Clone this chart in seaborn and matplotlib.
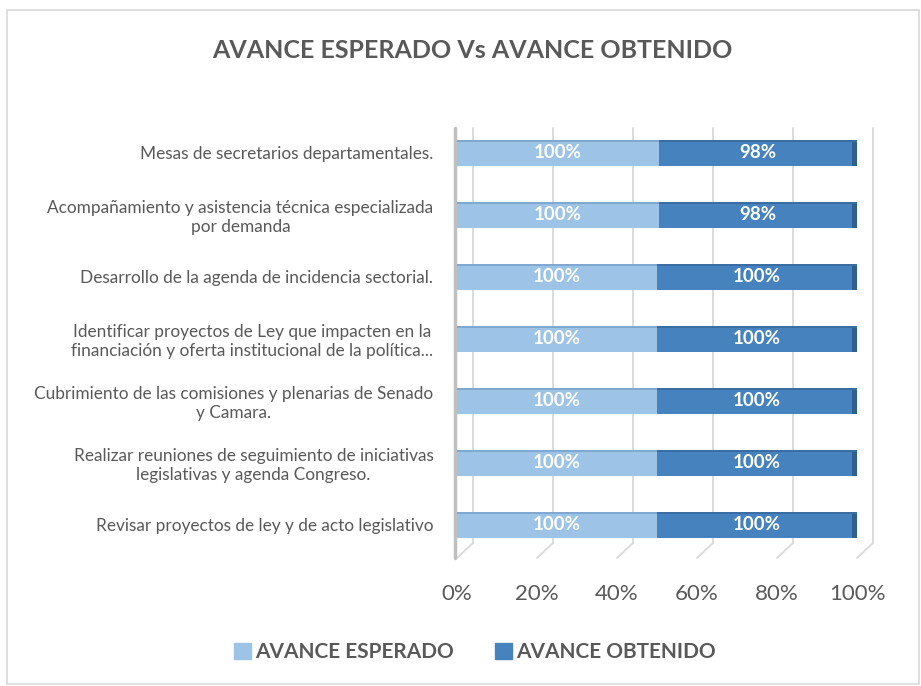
import numpy as np
import pandas as pd
import matplotlib.pyplot as plt
import matplotlib.transforms as mtransforms
from matplotlib.patches import Rectangle, Patch
from matplotlib.lines import Line2D
import seaborn as sns

sns.set_theme(style="white")
plt.rcParams['font.family'] = ['Lato', 'DejaVu Sans']

tasks = [
    "Mesas de secretarios departamentales.",
    "Acompañamiento y asistencia técnica especializada\npor demanda",
    "Desarrollo de la agenda de incidencia sectorial.",
    "Identificar proyectos de Ley que impacten en la\nfinanciación y oferta institucional de la política...",
    "Cubrimiento de las comisiones y plenarias de Senado\ny Camara.",
    "Realizar reuniones de seguimiento de iniciativas\nlegislativas y agenda Congreso.",
    "Revisar proyectos de ley y de acto legislativo",
]
esperado = [100, 100, 100, 100, 100, 100, 100]
obtenido = [98, 98, 100, 100, 100, 100, 100]

df = pd.DataFrame({"tarea": tasks, "esperado": esperado, "obtenido": obtenido})
tot = df["esperado"] + df["obtenido"]
df["sh_esp"] = df["esperado"] / tot
df["sh_all"] = (df["esperado"] + df["obtenido"]) / tot

light = "#9DC3E6"
dark = "#4682BE"
cap = "#2F5F8F"
grey = "#595959"
gridc = "#D9D9D9"

fig = plt.figure(figsize=(9.21, 6.86), dpi=100)
ax = fig.add_axes([457 / 921, 1 - 556 / 686, 400 / 921, 428 / 686])

sns.barplot(data=df, y="tarea", x="sh_all", color=dark, orient="h", width=0.42,
            ax=ax, saturation=1, zorder=3)
n_dark = len(ax.patches)
sns.barplot(data=df, y="tarea", x="sh_esp", color=light, orient="h", width=0.42,
            ax=ax, saturation=1, zorder=4)

ax.set_xlim(0, 1)
ax.set_ylim(6.5, -0.4)
ticks = np.arange(0, 1.01, 0.2)

# back wall grid (shifted right) + floor diagonals, in pixels
dx, dy = 16, 14
y_top = 686 - 128
y_wall_bot = 686 - 543
y_front = 686 - 558
for t in ticks:
    xp = ax.transData.transform((t, 0))[0]
    fig.add_artist(Line2D([xp + dx, xp + dx], [y_wall_bot, y_top], transform=None,
                          color=gridc, lw=1.3, zorder=0))
    fig.add_artist(Line2D([xp + dx, xp], [y_wall_bot, y_front], transform=None,
                          color=gridc, lw=1.3, zorder=0))
x0 = ax.transData.transform((0, 0))[0]
fig.add_artist(Line2D([x0 - 2, x0 - 2], [y_front, y_top], transform=None,
                      color="#BFBFBF", lw=2.5, zorder=0))

for k, p in enumerate(ax.patches):
    p.set_edgecolor("none")
    if k < n_dark:
        # darker end cap for a 3D look
        ax.add_patch(Rectangle((p.get_x() + p.get_width() - 0.012, p.get_y()), 0.012,
                               p.get_height(), color=cap, zorder=3.5, lw=0))
    # thin top shade
    ax.add_patch(Rectangle((p.get_x(), p.get_y()), p.get_width(), p.get_height() * 0.08,
                           color="#7FA7CF" if k >= n_dark else "#3A6EA3", zorder=4.5, lw=0))

for i, row in df.iterrows():
    ax.text(row["sh_esp"] / 2, i, f"{row['esperado']}%", ha="center", va="center",
            color="white", fontsize=13.5, fontweight="bold", zorder=5)
    ax.text(row["sh_esp"] + (row["sh_all"] - row["sh_esp"]) / 2, i, f"{row['obtenido']}%",
            ha="center", va="center", color="white", fontsize=13.5, fontweight="bold", zorder=5)

ax.set_xticks(ticks)
ax.set_xticklabels([f"{int(round(v * 100))}%" for v in ticks], fontsize=16, color=grey)
ax.tick_params(axis="x", length=0, pad=20)
ax.tick_params(axis="y", length=0, pad=17)
for lab in ax.get_yticklabels():
    lab.set_fontsize(12.4)
    lab.set_color(grey)
    lab.set_multialignment("center")
ax.set_xlabel("")
ax.set_ylabel("")
for s in ax.spines.values():
    s.set_visible(False)
ax.patch.set_alpha(0)

fig.text(472 / 921, 1 - 50 / 686, "AVANCE ESPERADO Vs AVANCE OBTENIDO", ha="center", va="center",
         fontsize=18, fontweight="bold", color=grey)

handles = [Patch(color=light, label="AVANCE ESPERADO"), Patch(color=dark, label="AVANCE OBTENIDO")]
fig.legend(handles=handles, loc="center", bbox_to_anchor=(475 / 921, 1 - 652 / 686), ncol=2,
           frameon=False, prop={"size": 15, "weight": "bold"}, labelcolor=grey,
           handlelength=0.8, handleheight=0.8, handletextpad=0.2, columnspacing=2.0)

fig.patches.append(Rectangle((7 / 921, 2 / 686), 912 / 921, 674 / 686, transform=fig.transFigure,
                             fill=False, edgecolor=gridc, lw=1.2))

fig.savefig("out.png", dpi=100)
